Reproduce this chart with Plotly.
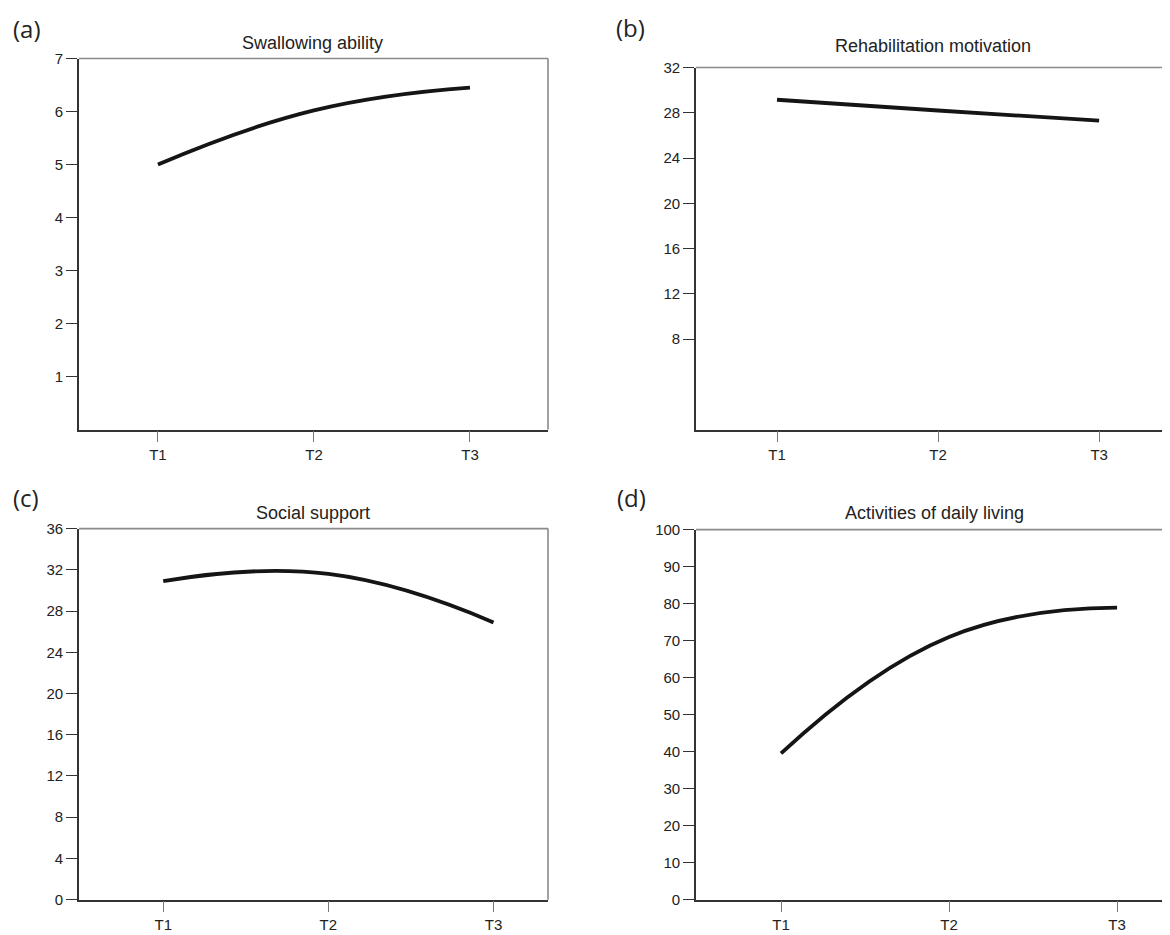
import plotly.graph_objects as go

# screen mapping calibration: x_screen = x_fig + 8 ; y_screen ~= 0.9815*y_fig + 16.5
OFFX = 8
YA, YB = 0.9815, 16.5
W, H = 1170 - OFFX, 927

time_points = ["T1", "T2", "T3"]
time_x = [1, 2, 3]

swallowing = [5.0, 6.02, 6.45]
rehab_motivation = [29.15, 28.2, 27.3]
social_support = [30.9, 31.6, 26.9]
adl = [39.5, 71.0, 78.9]

titles = ["Swallowing ability", "Rehabilitation motivation",
          "Social support", "Activities of daily living"]
panel_labels = ["(a)", "(b)", "(c)", "(d)"]

a_ticks = [1, 2, 3, 4, 5, 6, 7]
b_ticks = [8, 12, 16, 20, 24, 28, 32]
c_ticks = [0, 4, 8, 12, 16, 20, 24, 28, 32, 36]
d_ticks = [0, 10, 20, 30, 40, 50, 60, 70, 80, 90, 100]

# screen pixel boxes: (left, right, top, bottom)
boxes = [(79, 548, 58, 429), (696, 1170, 67, 429),
         (79, 548, 528, 899), (696, 1170, 529, 899)]
xranges = [[0.494, 3.5], [0.497, 3.44], [0.49, 3.33], [0.494, 3.315]]
yranges = [[0, 7], [0, 32], [0, 36], [0, 100]]
yticks = [a_ticks, b_ticks, c_ticks, d_ticks]
series = [swallowing, rehab_motivation, social_support, adl]
right_border = [True, False, True, False]
title_pos = [(312, 42), (933, 45), (313, 512), (934, 512)]
label_pos = [(11, 28), (614, 27), (11, 497), (615, 497)]


def px(x):
    return (x - OFFX) / W


def py(y):
    return 1 - ((y - YB) / YA) / H


fig = go.Figure()
tick_font = dict(family="Liberation Sans, Arial, sans-serif", size=15, color="#222")
shapes = []
annotations = []
for i in range(4):
    l, r, t, b = boxes[i]
    xa = "xaxis" if i == 0 else f"xaxis{i+1}"
    ya = "yaxis" if i == 0 else f"yaxis{i+1}"
    xr = "x" if i == 0 else f"x{i+1}"
    yr = "y" if i == 0 else f"y{i+1}"
    fig.add_trace(go.Scatter(
        x=time_x, y=series[i], mode="lines",
        line=dict(color="#151515", width=3.8, shape="spline", smoothing=1.3),
        xaxis=xr, yaxis=yr, showlegend=False, hoverinfo="x+y"))
    fig.layout[xa] = dict(
        domain=[max(0, px(l)), min(1, px(r))], range=xranges[i], anchor=yr,
        tickvals=time_x, ticktext=time_points, ticks="outside", ticklen=11,
        tickwidth=1.2, tickcolor="#777", showline=True, linecolor="#333",
        linewidth=1.6, showgrid=False, zeroline=False, tickfont=tick_font,
        fixedrange=True)
    fig.layout[ya] = dict(
        domain=[py(b), py(t)], range=yranges[i], anchor=xr,
        tickvals=yticks[i], ticks="outside", ticklen=11, tickwidth=1.4,
        tickcolor="#333", showline=True, linecolor="#333", linewidth=1.6,
        showgrid=False, zeroline=False, tickfont=tick_font, fixedrange=True)
    shapes.append(dict(type="line", xref="paper", yref="paper",
                       x0=px(l), x1=min(1, px(r)), y0=py(t), y1=py(t),
                       line=dict(color="#8a8a8a", width=1.6)))
    if right_border[i]:
        shapes.append(dict(type="line", xref="paper", yref="paper",
                           x0=px(r), x1=px(r), y0=py(t), y1=py(b),
                           line=dict(color="#8a8a8a", width=1.6)))
    tx, ty = title_pos[i]
    annotations.append(dict(text=titles[i], x=px(tx), y=py(ty),
                            xref="paper", yref="paper", showarrow=False,
                            xanchor="center", yanchor="middle",
                            font=dict(family="Liberation Sans, Arial, sans-serif",
                                      size=18, color="#222")))
    lx, ly = label_pos[i]
    annotations.append(dict(text=panel_labels[i], x=px(lx), y=py(ly),
                            xref="paper", yref="paper", showarrow=False,
                            xanchor="left", yanchor="middle",
                            font=dict(family="Open Sans, sans-serif",
                                      size=24, color="#222")))

fig.update_layout(width=W, height=H, margin=dict(l=0, r=0, t=0, b=0),
                  paper_bgcolor="white", plot_bgcolor="white",
                  shapes=shapes, annotations=annotations, showlegend=False)
fig.write_html("out.html", config={"displayModeBar": False})
